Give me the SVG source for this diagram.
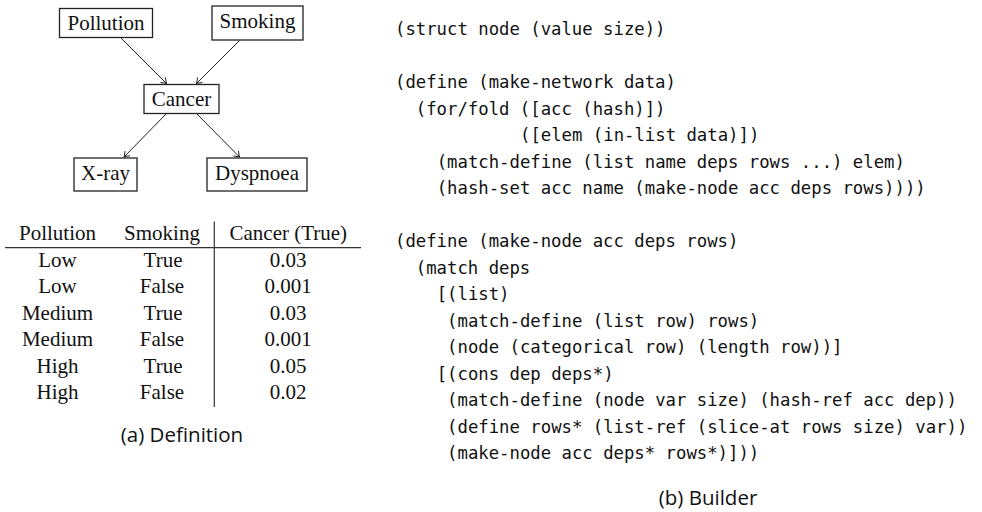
<svg xmlns="http://www.w3.org/2000/svg" width="982" height="512" viewBox="0 0 982 512">
<style>
.box{fill:#fff;stroke:#222;stroke-width:1.3}
.lbl{font-family:"Liberation Serif","Times New Roman",serif;font-size:21px;fill:#111;text-anchor:middle}
.edge{stroke:#222;stroke-width:1;fill:none;marker-end:url(#arr)}
.tab{font-family:"Liberation Serif","Times New Roman",serif;font-size:21px;fill:#111;text-anchor:middle}
.code{font-family:"DejaVu Sans Mono",monospace;font-size:17.3px;fill:#111}
.cap{font-family:"Open Sans","Noto Sans",sans-serif;font-size:20.5px;fill:#111;text-anchor:middle}
</style>
<defs>
<marker id="arr" viewBox="-6 -5 8 10" markerWidth="8" markerHeight="10" refX="0" refY="0" orient="auto" markerUnits="userSpaceOnUse">
<path d="M-5,-3.5 Q-1.5,-0.8 0,0 Q-1.5,0.8 -5,3.5" fill="none" stroke="#222" stroke-width="1"/>
</marker>
</defs>
<rect width="982" height="512" fill="#fff"/>
<g id="connectors">
<line class="edge" x1="121" y1="38" x2="166.5" y2="83.5"/>
<line class="edge" x1="239.5" y1="40.5" x2="196.5" y2="83.5"/>
<line class="edge" x1="166.5" y1="113.5" x2="124" y2="157"/>
<line class="edge" x1="196.5" y1="113.5" x2="239.5" y2="157"/>
</g>
<g id="pollution"><rect class="box" x="59.5" y="8.5" width="93" height="29"/><text class="lbl" x="106" y="30">Pollution</text></g>
<g id="smoking"><rect class="box" x="212" y="6" width="91" height="34"/><text class="lbl" x="257.5" y="27.5">Smoking</text></g>
<g id="cancer"><rect class="box" x="144" y="84.5" width="75" height="29"/><text class="lbl" x="181.5" y="106">Cancer</text></g>
<g id="xray"><rect class="box" x="74" y="158" width="63" height="33"/><text class="lbl" x="105.5" y="180">X-ray</text></g>
<g id="dyspnoea"><rect class="box" x="207" y="158" width="100" height="33"/><text class="lbl" x="257" y="180">Dyspnoea</text></g>
<g id="table">
<line x1="5" y1="247.7" x2="361" y2="247.7" stroke="#333" stroke-width="1.3"/>
<line x1="214.3" y1="221.5" x2="214.3" y2="407" stroke="#333" stroke-width="1.2"/>
<text class="tab" x="57.5" y="240">Pollution</text>
<text class="tab" x="162" y="240">Smoking</text>
<text class="tab" x="288.3" y="240">Cancer (True)</text>
<text class="tab" x="57.5" y="266.5">Low</text><text class="tab" x="163" y="266.5">True</text><text class="tab" x="288" y="266.5">0.03</text>
<text class="tab" x="57.5" y="293">Low</text><text class="tab" x="162" y="293">False</text><text class="tab" x="288" y="293">0.001</text>
<text class="tab" x="57.5" y="319.5">Medium</text><text class="tab" x="163" y="319.5">True</text><text class="tab" x="288" y="319.5">0.03</text>
<text class="tab" x="57.5" y="346">Medium</text><text class="tab" x="162" y="346">False</text><text class="tab" x="288" y="346">0.001</text>
<text class="tab" x="57.5" y="372.5">High</text><text class="tab" x="163" y="372.5">True</text><text class="tab" x="288" y="372.5">0.05</text>
<text class="tab" x="57.5" y="399">High</text><text class="tab" x="162" y="399">False</text><text class="tab" x="288" y="399">0.02</text>
</g>
<text class="cap" x="182" y="441.5">(a) Definition</text>
<g id="code">
<text class="code" x="395" y="35">(struct node (value size))</text>
<text class="code" x="395" y="88">(define (make-network data)</text>
<text class="code" x="415.8" y="114.5">(for/fold ([acc (hash)])</text>
<text class="code" x="520" y="141">([elem (in-list data)])</text>
<text class="code" x="436.7" y="167.5">(match-define (list name deps rows ...) elem)</text>
<text class="code" x="436.7" y="194">(hash-set acc name (make-node acc deps rows))))</text>
<text class="code" x="395" y="247">(define (make-node acc deps rows)</text>
<text class="code" x="415.8" y="273.5">(match deps</text>
<text class="code" x="436.7" y="300">[(list)</text>
<text class="code" x="447.1" y="326.5">(match-define (list row) rows)</text>
<text class="code" x="447.1" y="353">(node (categorical row) (length row))]</text>
<text class="code" x="436.7" y="379.5">[(cons dep deps*)</text>
<text class="code" x="447.1" y="406">(match-define (node var size) (hash-ref acc dep))</text>
<text class="code" x="447.1" y="432.5">(define rows* (list-ref (slice-at rows size) var))</text>
<text class="code" x="447.1" y="459">(make-node acc deps* rows*)]))</text>
</g>
<text class="cap" x="708" y="505">(b) Builder</text>
</svg>
